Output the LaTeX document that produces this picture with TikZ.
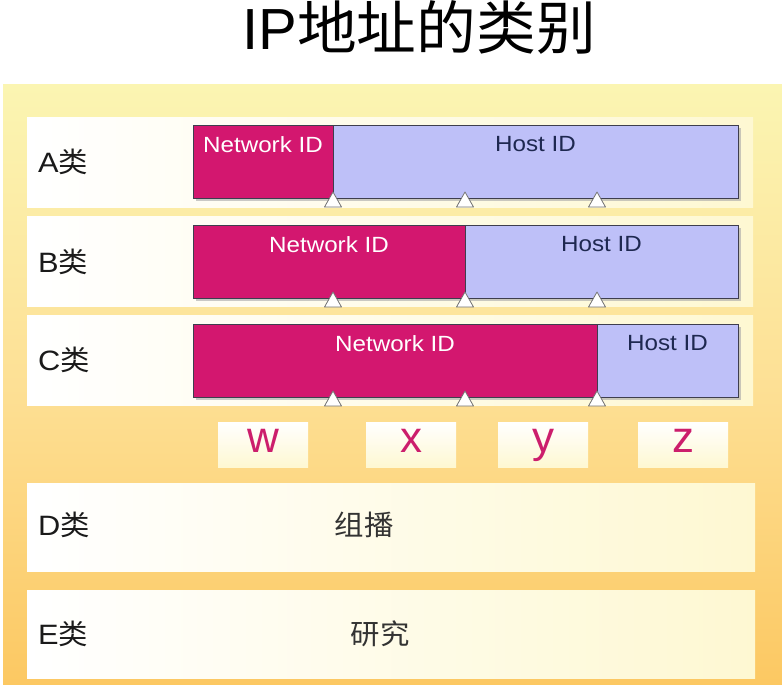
\documentclass[tikz,border=0pt]{standalone}
\usepackage{fontspec}
\setmainfont{Liberation Sans}[FakeStretch=1.1]
\newfontfamily\cjk{Noto Sans CJK SC}[FakeStretch=1.05]
\newfontfamily\titlelat{Liberation Sans}
\newfontfamily\titlecjk{Noto Sans CJK SC}[FakeStretch=1.03]
\newfontfamily\plainlat{Liberation Sans}
\definecolor{panelTop}{HTML}{FBF5B2}
\definecolor{panelMid}{HTML}{FDE095}
\definecolor{panelBot}{HTML}{FCC862}
\definecolor{netcol}{HTML}{D3176F}
\definecolor{hostcol}{HTML}{BEC0F8}
\definecolor{barline}{HTML}{3E3E4E}
\definecolor{hosttext}{HTML}{1E2850}
\definecolor{rowright}{HTML}{FEF8D2}
\definecolor{lettercol}{HTML}{CC1E6C}
\definecolor{labelcol}{HTML}{1A1A1A}
\begin{document}
\begin{tikzpicture}[x=1pt,y=-1pt,
  rowbox/.style={anchor=north west, inner sep=0pt, outer sep=0pt,
    left color=white, right color=rowright, draw=none},
  netbar/.style={anchor=north west, inner sep=0pt, outer sep=0pt,
    fill=netcol, draw=barline, line width=1pt, minimum height=73pt},
  hostbar/.style={anchor=north west, inner sep=0pt, outer sep=0pt,
    fill=hostcol, draw=barline, line width=1pt, minimum height=73pt},
  barshadow/.style={fill=black!35, opacity=0.6},
  nettext/.style={anchor=north, inner sep=0pt, text=white, font=\fontsize{22}{22}\selectfont},
  hosttxt/.style={anchor=north, inner sep=0pt, text=hosttext, font=\fontsize{22}{22}\selectfont},
  rowlabel/.style={anchor=west, inner sep=0pt, text=labelcol, font=\fontsize{28}{28}\selectfont},
  desctext/.style={inner sep=0pt, text=black!80, font=\cjk\fontsize{28}{28}\selectfont},
  tick/.style={fill=white, draw=black!55, line width=0.8pt, line join=round},
  letterbox/.style={anchor=north west, inner sep=0pt, outer sep=0pt,
    minimum width=90pt, minimum height=45pt, top color=white, bottom color=rowright},
  lettertext/.style={inner sep=0pt, anchor=base, text=lettercol, font=\plainlat\fontsize{44}{44}\selectfont}
]
\useasboundingbox (0,0) rectangle (782,685);
\fill[white] (0,0) rectangle (782,685);
% panel background
\shade[top color=panelTop, bottom color=panelMid] (3,85) rectangle (782,385);
\shade[top color=panelMid, bottom color=panelBot] (3,385) rectangle (782,685);

% title
\node[inner sep=0pt, anchor=base, text=black] (title) at (419,50)
  {\titlelat\fontsize{58}{58}\selectfont IP\titlecjk 地址的类别};

% rows
\node[rowbox, minimum width=726pt, minimum height=90pt] (rowA) at (27,117) {};
\node[rowbox, minimum width=726pt, minimum height=90pt] (rowB) at (27,216) {};
\node[rowbox, minimum width=726pt, minimum height=90pt] (rowC) at (27,315) {};
\node[rowbox, minimum width=728pt, minimum height=88pt] (rowD) at (27,483) {};
\node[rowbox, minimum width=728pt, minimum height=88pt] (rowE) at (27,590) {};

% row labels
\node[rowlabel] (labA) at (38,162) {A{\cjk 类}};
\node[rowlabel] (labB) at (38,262) {B{\cjk 类}};
\node[rowlabel] (labC) at (38,360) {C{\cjk 类}};
\node[rowlabel] (labD) at (38,525) {D{\cjk 类}};
\node[rowlabel] (labE) at (38,634) {E{\cjk 类}};

% bar shadows
\fill[barshadow] (196,128) rectangle (741,201);
\fill[barshadow] (196,228) rectangle (741,301);
\fill[barshadow] (196,327) rectangle (741,400);

% A bar
\node[netbar, minimum width=140pt] (netA) at (193,125) {};
\node[hostbar, minimum width=405pt] (hostA) at (333,125) {};
% B bar
\node[netbar, minimum width=272pt] (netB) at (193,225) {};
\node[hostbar, minimum width=273pt] (hostB) at (465,225) {};
% C bar
\node[netbar, minimum width=404pt] (netC) at (193,324) {};
\node[hostbar, minimum width=141pt] (hostC) at (597,324) {};

% bar texts
\node[nettext] (tnA) at ([yshift=-11pt]netA.north) {Network ID};
\node[hosttxt] (thA) at ([yshift=-11pt]hostA.north) {Host ID};
\node[nettext] (tnB) at ([yshift=-11pt]netB.north) {Network ID};
\node[hosttxt] (thB) at ([yshift=-11pt]hostB.north) {Host ID};
\node[nettext] (tnC) at ([yshift=-11pt]netC.north) {Network ID};
\node[hosttxt] (thC) at ([yshift=-11pt]hostC.north) {Host ID};

% ticks (small triangles)
\foreach \yy in {198,298,397}{
  \foreach \xx in {333,465,597}{
    \draw[tick] (\xx,\yy-6) -- (\xx+8.5,\yy+9) -- (\xx-8.5,\yy+9) -- cycle;
  }
}

% letter boxes
\node[letterbox] (bw) at (218,422) {};
\node[letterbox] (bx) at (366,422) {};
\node[letterbox] (by) at (498,422) {};
\node[letterbox] (bz) at (638,422) {};
\node[lettertext] (lw) at (bw.center |- 0,452) {w};
\node[lettertext] (lx) at (bx.center |- 0,452) {x};
\node[lettertext] (ly) at (by.center |- 0,452) {y};
\node[lettertext] (lz) at (bz.center |- 0,452) {z};

% descriptions
\node[desctext] (dD) at (364,525) {组播};
\node[desctext] (dE) at (380,634) {研究};
\end{tikzpicture}
\end{document}
